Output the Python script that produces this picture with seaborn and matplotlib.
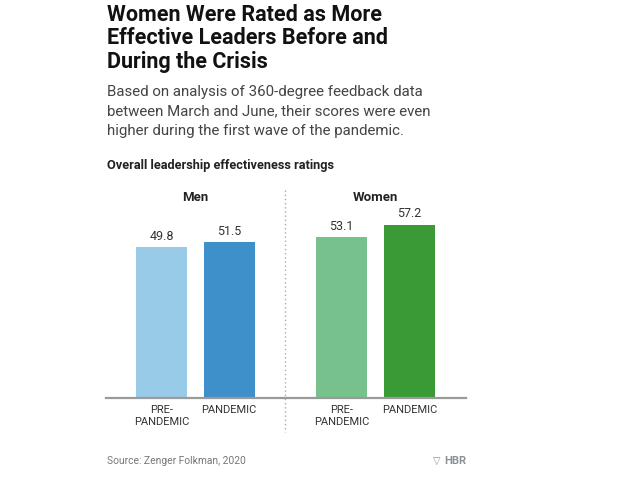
import matplotlib
matplotlib.use("Agg")
import matplotlib.pyplot as plt
from matplotlib.lines import Line2D
import seaborn as sns
import pandas as pd

sns.set_style("white")
plt.rcParams['font.family'] = ['Roboto', 'DejaVu Sans']

# data
groups = ["Men", "Women"]
periods = ["PRE-\nPANDEMIC", "PANDEMIC"]
men_scores = [49.8, 51.5]
women_scores = [53.1, 57.2]
men_colors = ["#98cbe7", "#3d90c9"]
women_colors = ["#77c28c", "#3a9a35"]

W, H = 629, 487
fig = plt.figure(figsize=(W / 100, H / 100), dpi=100)

def fx(px):
    return px / W

def fy(px):
    return 1 - px / H

base_y = 398
ax_top = 201
ax_h = (base_y - ax_top) / H
ax_men = fig.add_axes([fx(106), fy(base_y), fx(285 - 106), ax_h])
ax_wom = fig.add_axes([fx(285), fy(base_y), fx(466 - 285), ax_h])

for ax, name, vals, cols in [(ax_men, groups[0], men_scores, men_colors),
                             (ax_wom, groups[1], women_scores, women_colors)]:
    df = pd.DataFrame({"period": periods, "score": vals})
    sns.barplot(data=df, x="period", y="score", hue="period", palette=cols,
                width=0.76, legend=False, ax=ax, saturation=1, linewidth=0)
    for c in ax.containers:
        ax.bar_label(c, fmt="%.1f", padding=3, fontsize=9, color="#333333")
    ax.set_ylim(0, 65)
    ax.set_xlim(-0.83, 1.83)
    ax.set_xlabel("")
    ax.set_ylabel("")
    ax.set_yticks([])
    for s in ["top", "left", "right"]:
        ax.spines[s].set_visible(False)
    ax.spines["bottom"].set_color("#9a9a9a")
    ax.spines["bottom"].set_linewidth(1.6)
    ax.tick_params(axis="x", length=0, pad=5)
    for lab in ax.get_xticklabels():
        lab.set_fontsize(8)
        lab.set_color("#333333")
        lab.set_verticalalignment("top")
    ax.text(0.5, 1.02, name, transform=ax.transAxes, ha="center", va="center",
            fontsize=9.5, fontweight="bold", color="#222222")

# divider
fig.add_artist(Line2D([fx(285), fx(285)], [fy(190), fy(432)], transform=fig.transFigure,
                      color="#aaaaaa", linestyle=(0, (1, 2)), linewidth=1))

# titles
fig.text(fx(107), fy(4), "Women Were Rated as More\nEffective Leaders Before and\nDuring the Crisis",
         ha="left", va="top", fontsize=15.5, fontweight="bold", color="#111111", linespacing=1.08)
fig.text(fx(107), fy(85), "Based on analysis of 360-degree feedback data\nbetween March and June, their scores were even\nhigher during the first wave of the pandemic.",
         ha="left", va="top", fontsize=10.8, color="#444444", linespacing=1.5)
fig.text(fx(107), fy(165), "Overall leadership effectiveness ratings", ha="left", va="center",
         fontsize=9.2, fontweight="bold", color="#222222")
fig.text(fx(107), fy(461), "Source: Zenger Folkman, 2020", ha="left", va="center",
         fontsize=7.4, color="#777777")
fig.text(fx(466), fy(461), "HBR", ha="right", va="center", fontsize=8,
         fontweight="bold", color="#8a8f99")
fig.text(fx(440), fy(461), "\u25bd", ha="right", va="center", fontsize=7, color="#8a8f99",
         family="DejaVu Sans")

fig.savefig("out.png", dpi=100)
